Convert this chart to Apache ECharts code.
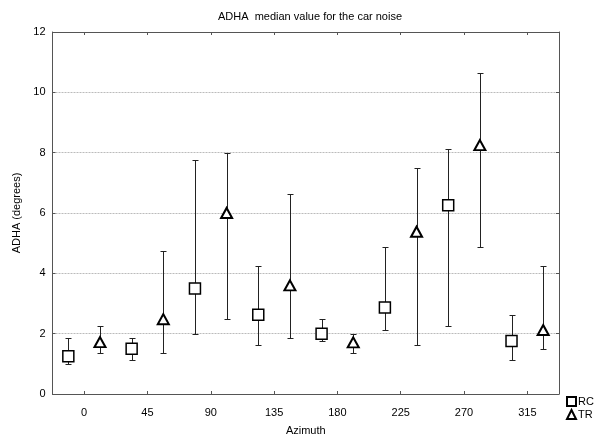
<!DOCTYPE html>
<html><head><meta charset="utf-8">
<script src="https://cdn.jsdelivr.net/npm/echarts@6/dist/echarts.min.js"></script>
<style>html,body{margin:0;padding:0;background:#fff}#c{width:597px;height:441px}</style>
</head><body><div id="c"></div>
<script>
const azimuths = [0, 45, 90, 135, 180, 225, 270, 315];
const tickLabels = [0, 45, 90, 135, 180, 225, 270, 315];
const rcMedian = [1.25, 1.5, 3.5, 2.63, 2.0, 2.87, 6.26, 1.76];
const rcLow    = [1.0, 1.12, 2.0, 1.62, 1.75, 2.11, 2.25, 1.12];
const rcHigh   = [1.86, 1.86, 7.75, 4.24, 2.48, 4.87, 8.13, 2.62];
const trMedian = [1.72, 2.48, 6.0, 3.6, 1.71, 5.38, 8.25, 2.12];
const trLow    = [1.36, 1.36, 2.49, 1.87, 1.36, 1.62, 4.87, 1.5];
const trHigh   = [2.24, 4.74, 8.0, 6.63, 2.0, 7.5, 10.63, 4.25];
const rcShift = -11.25, trShift = 11.25;

const FONT = 'Liberation Sans, Arial, sans-serif';
const rcPts = azimuths.map((a, i) => [a + rcShift, rcMedian[i]]);
const trPts = azimuths.map((a, i) => [a + trShift, trMedian[i]]);
const rcErr = azimuths.map((a, i) => [a + rcShift, rcLow[i], rcHigh[i]]);
const trErr = azimuths.map((a, i) => [a + trShift, trLow[i], trHigh[i]]);

function errItem(params, api) {
  const x = api.value(0), lo = api.value(1), hi = api.value(2);
  const a = api.coord([x, lo]), b = api.coord([x, hi]);
  const px = Math.round(a[0]) + 0.5, ylo = Math.round(a[1]) + 0.5, yhi = Math.round(b[1]) + 0.5;
  const w = 3;
  const st = { stroke: '#222', lineWidth: 1 };
  return { type: 'group', children: [
    { type: 'line', shape: { x1: px, y1: ylo, x2: px, y2: yhi }, style: st },
    { type: 'line', shape: { x1: px - w, y1: ylo, x2: px + w, y2: ylo }, style: st },
    { type: 'line', shape: { x1: px - w, y1: yhi, x2: px + w, y2: yhi }, style: st }
  ]};
}

const chart = echarts.init(document.getElementById('c'), null, { renderer: 'canvas' });
const axisLine = { show: true, onZero: false, lineStyle: { color: '#555', width: 1 } };
const tick = { show: true, inside: true, length: 3, lineStyle: { color: '#555' } };
chart.setOption({
  animation: false,
  textStyle: { fontFamily: FONT },
  title: { text: 'ADHA  median value for the car noise', left: 305, textAlign: 'center', top: 6,
    textStyle: { fontSize: 11, fontWeight: 'normal', color: '#000', fontFamily: FONT } },
  legend: {
    orient: 'vertical', left: 566, top: 396, padding: 0, itemWidth: 9, itemHeight: 9, itemGap: 2,
    textStyle: { fontSize: 11, lineHeight: 10, color: '#000', fontFamily: FONT, padding: [0, 0, 0, -3] },
    data: ['RC', 'TR']
  },
  grid: { left: 52.5, right: 38, top: 32, bottom: 43 },
  xAxis: [{
    type: 'value', min: -22.5, max: 337.5, position: 'bottom',
    name: 'Azimuth', nameLocation: 'middle', nameGap: 31,
    nameTextStyle: { fontSize: 11, color: '#000', fontFamily: FONT },
    axisLine: axisLine,
    axisTick: Object.assign({ customValues: tickLabels }, tick),
    axisLabel: { customValues: tickLabels, fontSize: 11, color: '#000', margin: 13, fontFamily: FONT },
    splitLine: { show: false }
  }, {
    type: 'value', min: -22.5, max: 337.5, position: 'top',
    axisLine: axisLine,
    axisTick: Object.assign({ customValues: tickLabels }, tick),
    axisLabel: { show: false, customValues: tickLabels },
    splitLine: { show: false }
  }],
  yAxis: [{
    type: 'value', min: 0, max: 12, interval: 2, position: 'left',
    name: 'ADHA (degrees)', nameLocation: 'middle', nameGap: 30,
    nameTextStyle: { fontSize: 11, color: '#000', fontFamily: FONT },
    axisLine: axisLine,
    axisTick: tick,
    axisLabel: { fontSize: 11, color: '#000', margin: 7, fontFamily: FONT },
    splitLine: { show: true, lineStyle: { color: '#bbb', type: [2, 1], width: 1 } }
  }, {
    type: 'value', min: 0, max: 12, interval: 2, position: 'right',
    axisLine: axisLine,
    axisTick: tick,
    axisLabel: { show: false },
    splitLine: { show: false }
  }],
  series: [
    { type: 'custom', name: 'RCerr', renderItem: errItem, data: rcErr, encode: { x: 0, y: [1, 2] }, z: 2, silent: true },
    { type: 'custom', name: 'TRerr', renderItem: errItem, data: trErr, encode: { x: 0, y: [1, 2] }, z: 2, silent: true },
    { type: 'scatter', name: 'RC', data: rcPts, symbol: 'rect', symbolSize: 11, z: 5,
      itemStyle: { color: '#fff', borderColor: '#000', borderWidth: 1.5, opacity: 1 } },
    { type: 'scatter', name: 'TR', data: trPts, symbol: 'triangle', symbolSize: [11, 10], z: 5,
      itemStyle: { color: '#fff', borderColor: '#000', borderWidth: 2, opacity: 1 } }
  ]
});
</script></body></html>
